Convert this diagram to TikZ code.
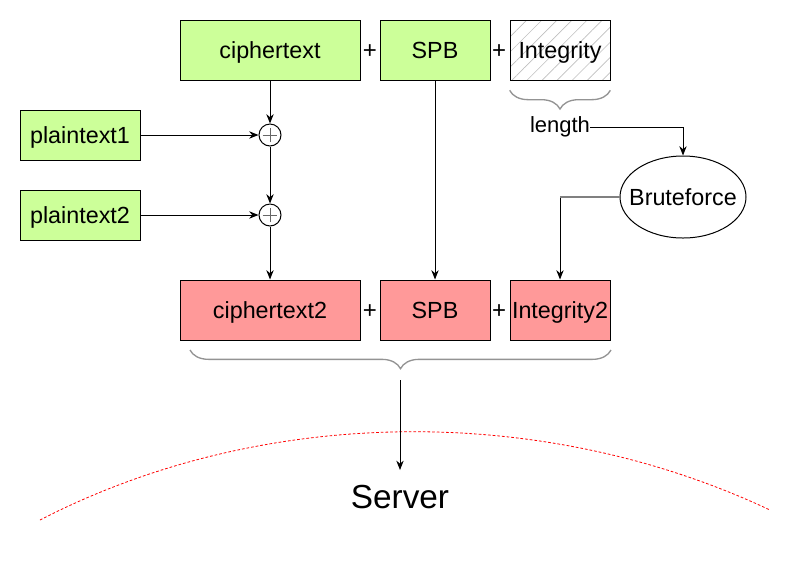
\documentclass[tikz,border=0pt]{standalone}
\usepackage{fontspec}
\setmainfont{Liberation Sans}
\usetikzlibrary{arrows.meta,decorations.pathreplacing,patterns.meta,shapes.geometric}
\definecolor{boxgreen}{HTML}{CCFF99}
\definecolor{boxred}{HTML}{FF9999}
\begin{document}
\begin{tikzpicture}[x=0.75pt,y=-0.75pt,
 every node/.style={font=\fontsize{17.5}{20}\selectfont, inner sep=0pt, text height=12.6pt, text depth=0pt},
 gbox/.style={draw=black, fill=boxgreen, line width=0.75pt},
 rbox/.style={draw=black, fill=boxred, line width=0.75pt},
 hbox/.style={draw=black, line width=0.75pt, pattern={Lines[angle=45,distance=8pt,line width=0.5pt]}, pattern color=gray!50},
 arr/.style={-{Stealth[length=7pt,width=5.5pt]}, line width=0.75pt},
 brc/.style={decorate, decoration={brace, mirror, amplitude=14pt}, draw=gray!85, line width=1pt},
 xorc/.style={circle, draw, minimum size=16.5pt, line width=0.75pt, fill=white,
   path picture={\draw[black!60, line width=0.75pt] ([xshift=-5.5pt]path picture bounding box.center) -- ([xshift=5.5pt]path picture bounding box.center);
                 \draw[black!60, line width=0.75pt] ([yshift=-5.5pt]path picture bounding box.center) -- ([yshift=5.5pt]path picture bounding box.center);}},
 plus/.style={font=\fontsize{18}{20}\selectfont}
]
\useasboundingbox (0,0) rectangle (791,562);

% top row
\node[gbox, minimum width=135pt, minimum height=45pt] (ct) at (270,50) {ciphertext};
\node[plus] (pa) at (370,50) {+};
\node[gbox, minimum width=82.5pt, minimum height=45pt] (spb) at (435,50) {SPB};
\node[plus] (pb) at (499,50) {+};
\node[hbox, minimum width=75pt, minimum height=45pt] (int) at (560,50) {Integrity};

% plaintexts and xors
\node[gbox, minimum width=90pt, minimum height=37.5pt] (pl1) at (80,135) {plaintext1};
\node[gbox, minimum width=90pt, minimum height=37.5pt] (pl2) at (80,215) {plaintext2};
\node[xorc] (x1) at (270,135) {};
\node[xorc] (x2) at (270,215) {};

% length and bruteforce
\node[font=\fontsize{16.5}{19}\selectfont, text height=11.9pt] (len) at (560,125) {length};
\node[ellipse, draw, line width=0.75pt, minimum width=94.5pt, minimum height=61.5pt] (bf) at (683,197) {\makebox[0pt]{Bruteforce}};

% bottom row
\node[rbox, minimum width=135pt, minimum height=45pt] (ct2) at (270,310) {ciphertext2};
\node[plus] (pc) at (370,310) {+};
\node[rbox, minimum width=82.5pt, minimum height=45pt] (spb2) at (435,310) {SPB};
\node[plus] (pd) at (499,310) {+};
\node[rbox, minimum width=75pt, minimum height=45pt] (int2) at (560,310) {Integrity2};

% server
\node[font=\fontsize{25}{30}\selectfont, text height=17.9pt] (srv) at (400,497) {Server};
\coordinate (btip) at (400,380);
\coordinate (arrend) at (400,470);

% braces
\draw[brc] ([yshift=-7.5pt]int.south west) -- ([yshift=-7.5pt]int.south east);
\draw[brc] (190,350) -- (611,350);

% connectors
\draw[arr] (ct) -- (x1);
\draw[arr] (pl1) -- (x1);
\draw[arr] (x1) -- (x2);
\draw[arr] (pl2) -- (x2);
\draw[arr] (x2) -- (ct2);
\draw[arr] (spb) -- (spb2);
\draw[arr] ([yshift=-1.5pt]len.east) -| (bf.north);
\draw[arr] (bf.west) -| (int2.north);
\draw[gray, line width=0.9pt] (bf.west) -- (int2.north |- bf.west);

% red dashed horizon
\draw[red, line width=0.6pt, dash pattern=on 2pt off 1.5pt] (40,520) .. controls (265,404) and (545,404) .. (770,510);
\draw[arr] (btip) -- (arrend);
\end{tikzpicture}
\end{document}
